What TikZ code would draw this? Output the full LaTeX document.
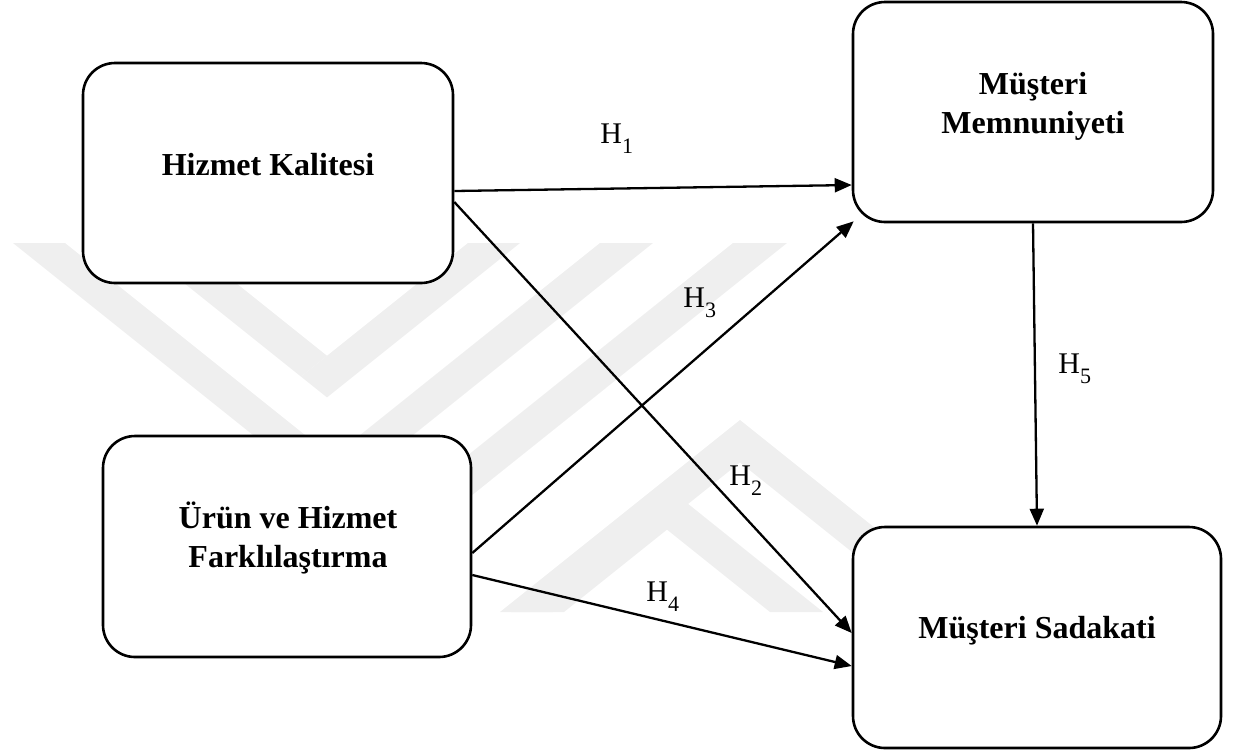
\documentclass[tikz,border=0pt]{standalone}
\usepackage{fontspec}
\setmainfont{Liberation Serif}
\usetikzlibrary{arrows.meta}
\definecolor{wm}{RGB}{239,239,239}
\newcommand\hsub[1]{\raisebox{-5pt}{\fontsize{11}{12}\selectfont #1}}
\begin{document}
\begin{tikzpicture}[x=0.5pt,y=-0.5pt,
  box/.style={draw,line width=1.3pt,rounded corners=16pt,fill=white,inner sep=0pt},
  btxt/.style={font=\fontsize{16}{19}\selectfont\bfseries,anchor=base,inner sep=0pt},
  hlab/.style={font=\fontsize{15}{18}\selectfont,anchor=base west,inner sep=0pt},
  conn/.style={line width=1.15pt,-{Triangle[length=8.5pt,width=7pt]}},
  band/.style={fill=wm,draw=none}]
\useasboundingbox (0,0) rectangle (1235,751);
% watermark
\fill[band] (13,243) -- (65,243) -- (332.5,457) -- (306.5,477.8) -- cycle;
\fill[band] (600,243) -- (653,243) -- (192,612) -- (139,612) -- cycle;
\fill[band] (134,243) -- (186,243) -- (327,355.8) -- (301,376.6) -- cycle;
\fill[band] (468,243) -- (520,243) -- (327,397.4) -- (301,376.6) -- cycle;
\fill[band] (733,243) -- (787,243) -- (326,612) -- (272,612) -- cycle;
\fill[band] (500,612) -- (740,420) -- (980,612) -- (927,612) -- (740,462.4) -- (553,612) -- cycle;
\fill[band] (511,612) -- (667,487) -- (823,612) -- (770,612) -- (667,529.6) -- (564,612) -- cycle;
% boxes
\node[box,minimum width=185pt,minimum height=110pt] (A) at (268,173) {};
\node[box,minimum width=180pt,minimum height=110pt] (B) at (1033,112) {};
\node[box,minimum width=184pt,minimum height=110.5pt] (C) at (287,546.5) {};
\node[box,minimum width=184pt,minimum height=110.5pt] (D) at (1037,637.5) {};
% box texts
\node[btxt] (At) at (268,175) {Hizmet Kalitesi};
\node[btxt] (Bt1) at (1033,94) {Müşteri};
\node[btxt] (Bt2) at (1033,133) {Memnuniyeti};
\node[btxt] (Ct1) at (288,528) {Ürün ve Hizmet};
\node[btxt] (Ct2) at (288,567) {Farklılaştırma};
\node[btxt] (Dt) at (1037,638) {Müşteri Sadakati};
% connectors
\draw[conn] ([yshift=-9pt]A.east) -- ([yshift=-36.5pt]B.west);
\draw[conn] ([yshift=-14.5pt]A.east) -- ([yshift=2.25pt]D.west);
\draw[conn] ([yshift=-3.25pt]C.east) -- ([xshift=1pt,yshift=1pt]B.south west);
\draw[conn] ([yshift=-14.25pt]C.east) -- ([yshift=-14.25pt]D.west);
\draw[conn] (B.south) -- (D.north);
% labels
\node[hlab] (H1) at (600,143) {H\hsub{1}};
\node[hlab] (H3) at (683,307) {H\hsub{3}};
\node[hlab] (H2) at (729,485) {H\hsub{2}};
\node[hlab] (H4) at (646,601) {H\hsub{4}};
\node[hlab] (H5) at (1058,373) {H\hsub{5}};
\end{tikzpicture}
\end{document}
